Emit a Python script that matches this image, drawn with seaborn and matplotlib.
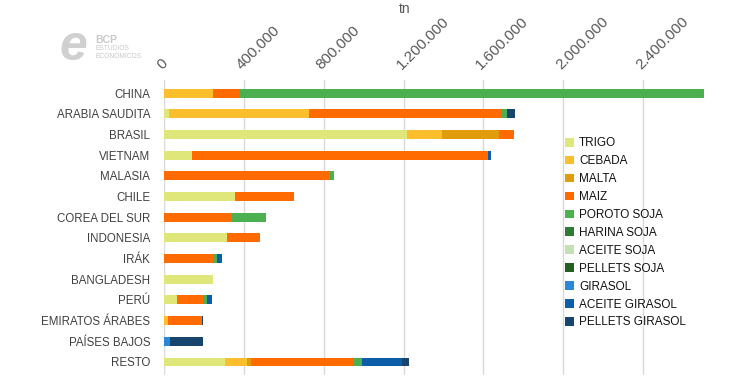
import numpy as np
import pandas as pd
import matplotlib
matplotlib.use('Agg')
import matplotlib.pyplot as plt
from matplotlib.ticker import FuncFormatter
from matplotlib.patches import Patch
import seaborn as sns

paises = ['CHINA', 'ARABIA SAUDITA', 'BRASIL', 'VIETNAM', 'MALASIA', 'CHILE',
          'COREA DEL SUR', 'INDONESIA', 'IRÁK', 'BANGLADESH', 'PERÚ',
          'EMIRATOS ÁRABES', 'PAÍSES BAJOS', 'RESTO']

productos = ['TRIGO', 'CEBADA', 'MALTA', 'MAIZ', 'POROTO SOJA', 'HARINA SOJA',
             'ACEITE SOJA', 'PELLETS SOJA', 'GIRASOL', 'ACEITE GIRASOL', 'PELLETS GIRASOL']

# toneladas por pais (mismo orden que paises)
trigo = [0, 25000, 1218000, 140000, 0, 355000, 0, 315000, 0, 243000, 63000, 0, 0, 305000]
cebada = [243000, 700000, 175000, 0, 0, 0, 0, 0, 0, 0, 0, 20000, 0, 112000]
malta = [0, 0, 283000, 0, 0, 0, 0, 0, 0, 0, 0, 0, 0, 18000]
maiz = [137000, 966000, 78000, 1482000, 830000, 297000, 342000, 165000, 250000, 0, 133000, 168000, 0, 515000]
poroto_soja = [2325000, 27000, 0, 0, 22000, 0, 167000, 0, 17000, 0, 20000, 0, 0, 43000]
harina_soja = [0] * 14
aceite_soja = [0] * 14
pellets_soja = [0] * 14
girasol = [0, 0, 0, 0, 0, 0, 0, 0, 0, 0, 0, 0, 30000, 0]
aceite_girasol = [0, 0, 0, 17000, 0, 0, 0, 0, 23000, 0, 25000, 0, 0, 198000]
pellets_girasol = [0, 42000, 0, 0, 0, 0, 0, 0, 0, 0, 0, 7000, 165000, 38000]

colores = ['#dfe67a', '#fbbf2e', '#e09c0a', '#ff6b00', '#4caf50', '#2f7a34',
           '#c5e0b4', '#255e21', '#2a88db', '#0c5ea8', '#17456e']

df = pd.DataFrame({
    'TRIGO': trigo, 'CEBADA': cebada, 'MALTA': malta, 'MAIZ': maiz,
    'POROTO SOJA': poroto_soja, 'HARINA SOJA': harina_soja,
    'ACEITE SOJA': aceite_soja, 'PELLETS SOJA': pellets_soja,
    'GIRASOL': girasol, 'ACEITE GIRASOL': aceite_girasol,
    'PELLETS GIRASOL': pellets_girasol}, index=paises)
acum = df[productos].cumsum(axis=1)

sns.set_style('white')
plt.rcParams['font.family'] = ['Liberation Sans', 'DejaVu Sans']

fig = plt.figure(figsize=(7.3, 3.87), dpi=100)
ax = fig.add_axes([0.2247, 0.031, 0.7411, 0.7622])

# barras apiladas: se dibuja el acumulado de atras hacia adelante
for prod, col in reversed(list(zip(productos, colores))):
    d = pd.DataFrame({'pais': paises, 'tn': acum[prod].values})
    sns.barplot(data=d, x='tn', y='pais', order=paises, color=col,
                width=0.43, saturation=1, linewidth=0, ax=ax, zorder=3)

ax.set_xlim(0, 2.71e6)
ax.set_ylim(13.63, -0.63)
ax.set_xlabel('')
ax.set_ylabel('')
for s in ax.spines.values():
    s.set_visible(False)

ax.set_xticks(np.arange(0, 2400001, 400000))
ax.xaxis.set_major_formatter(FuncFormatter(lambda v, p: f'{int(v):,}'.replace(',', '.')))
ax.xaxis.tick_top()
ax.tick_params(axis='x', length=0, pad=6, labelsize=11, colors='#595959')
for lab in ax.get_xticklabels():
    lab.set_rotation(45)
    lab.set_ha('left')
    lab.set_va('bottom')
    lab.set_rotation_mode('anchor')
ax.tick_params(axis='y', length=0, pad=10, labelsize=8.3, colors='#404040')
ax.grid(axis='x', color='#d9d9d9', linewidth=1, zorder=0)
ax.grid(axis='y', visible=False)

handles = [Patch(facecolor=c, edgecolor='none', label=p) for p, c in zip(productos, colores)]
fig.legend(handles=handles, loc='upper left', bbox_to_anchor=(0.774, 0.645),
           frameon=False, fontsize=8.5, handlelength=0.75, handleheight=0.75,
           handletextpad=0.45, labelspacing=0.5, borderpad=0, borderaxespad=0,
           labelcolor='#111111')

fig.text(405 / 730, 1 - 9 / 387, 'tn', ha='center', va='center', fontsize=10, color='#595959')

# logo
fig.text(73 / 730, 1 - 47 / 387, 'e', ha='center', va='center', fontsize=36,
         fontweight='bold', fontstyle='italic', color='#d0d0d0')
fig.text(95 / 730, 1 - 40 / 387, 'BCP', ha='left', va='center', fontsize=7.5,
         fontweight='bold', color='#c8c8c8')
fig.text(95 / 730, 1 - 49 / 387, 'ESTUDIOS', ha='left', va='center', fontsize=4.8, color='#c8c8c8')
fig.text(95 / 730, 1 - 56 / 387, 'ECONÓMICOS', ha='left', va='center', fontsize=4.8, color='#c8c8c8')

fig.savefig('out.png', dpi=100)
